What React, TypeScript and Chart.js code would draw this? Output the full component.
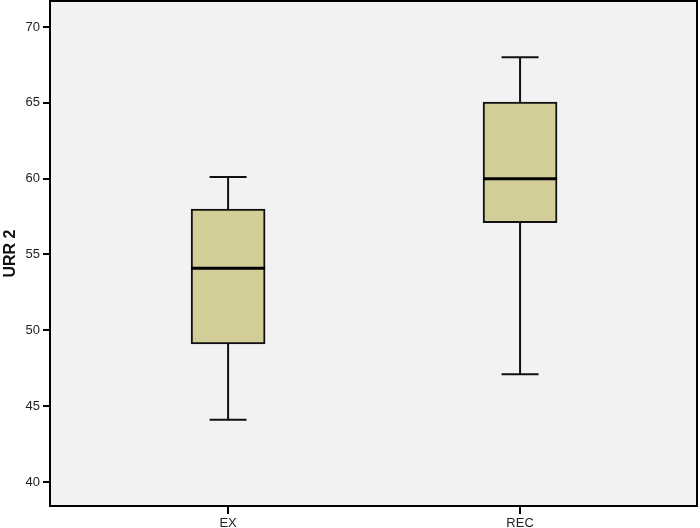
import React, { useEffect, useRef } from "react";
import { Chart, registerables } from "chart.js";

Chart.register(...registerables);

const categories = ["EX", "REC"];
const positions = [1, 2];
const minValues = [44.1, 47.1];
const q1Values = [49.1, 57.1];
const medianValues = [54.1, 60.0];
const q3Values = [58.0, 65.05];
const maxValues = [60.1, 68.0];
const yTicks = [40, 45, 50, 55, 60, 65, 70];

const boxPlugin = {
  id: "boxExtras",
  beforeDraw(chart: any) {
    const { ctx, chartArea: a } = chart;
    ctx.save();
    ctx.fillStyle = "#f2f2f2";
    ctx.fillRect(a.left, a.top, a.right - a.left, a.bottom - a.top);
    ctx.restore();
  },
  beforeDatasetsDraw(chart: any) {
    const { ctx } = chart;
    const xs = chart.scales.x;
    const ys = chart.scales.y;
    ctx.save();
    ctx.strokeStyle = "#111";
    ctx.lineWidth = 2;
    positions.forEach((p, i) => {
      const x = xs.getPixelForValue(p);
      const half = 18.5;
      const yMin = ys.getPixelForValue(minValues[i]);
      const yMax = ys.getPixelForValue(maxValues[i]);
      const yQ1 = ys.getPixelForValue(q1Values[i]);
      const yQ3 = ys.getPixelForValue(q3Values[i]);
      ctx.beginPath();
      ctx.moveTo(x, yQ3);
      ctx.lineTo(x, yMax);
      ctx.moveTo(x - half, yMax);
      ctx.lineTo(x + half, yMax);
      ctx.moveTo(x, yQ1);
      ctx.lineTo(x, yMin);
      ctx.moveTo(x - half, yMin);
      ctx.lineTo(x + half, yMin);
      ctx.stroke();
    });
    ctx.restore();
  },
  afterDatasetsDraw(chart: any) {
    const { ctx } = chart;
    const xs = chart.scales.x;
    const ys = chart.scales.y;
    const meta = chart.getDatasetMeta(0);
    ctx.save();
    ctx.strokeStyle = "#000";
    ctx.lineWidth = 3;
    positions.forEach((p, i) => {
      const bar: any = meta.data[i];
      const w = bar ? bar.width : 74;
      const x = xs.getPixelForValue(p);
      const y = ys.getPixelForValue(medianValues[i]);
      ctx.beginPath();
      ctx.moveTo(x - w / 2, y);
      ctx.lineTo(x + w / 2, y);
      ctx.stroke();
    });
    ctx.restore();
  },
  afterDraw(chart: any) {
    const { ctx, chartArea: a } = chart;
    ctx.save();
    ctx.strokeStyle = "#000";
    ctx.lineWidth = 2;
    ctx.strokeRect(a.left, a.top, a.right - a.left, a.bottom - a.top);
    ctx.restore();
  },
};

export default function App() {
  const ref = useRef<HTMLCanvasElement | null>(null);
  useEffect(() => {
    document.body.style.margin = "0";
    if (!ref.current) return;
    const chart = new Chart(ref.current, {
      type: "bar",
      data: {
        datasets: [
          {
            data: positions.map((p, i) => ({ x: p, y: [q1Values[i], q3Values[i]] })) as any,
            backgroundColor: "#d3ce98",
            borderColor: "#111",
            borderWidth: 2,
            borderSkipped: false,
            barThickness: 74,
          },
        ],
      },
      options: {
        animation: false,
        responsive: false,
        maintainAspectRatio: false,
        layout: { padding: { top: 1, right: 3, left: 0, bottom: 0 } },
        plugins: { legend: { display: false }, tooltip: { enabled: false } },
        scales: {
          x: {
            type: "linear",
            min: 0.39,
            max: 2.606,
            offset: false,
            grid: { display: true, offset: false, drawOnChartArea: false, drawTicks: true, tickLength: 8, color: "#000", lineWidth: 2 },
            border: { display: false },
            afterBuildTicks(scale: any) {
              scale.ticks = positions.map((v) => ({ value: v }));
            },
            afterFit(scale: any) {
              scale.height = 22;
              scale.paddingLeft = 0;
              scale.paddingRight = 0;
            },
            ticks: {
              padding: 2,
              color: "#222",
              font: { family: "Liberation Sans, Arial, sans-serif", size: 13 },
              callback: (v: any) => {
                const idx = positions.indexOf(Number(v));
                return idx >= 0 ? categories[idx] : "";
              },
            },
          },
          y: {
            type: "linear",
            min: 38.42,
            max: 71.71,
            grid: { display: true, drawOnChartArea: false, drawTicks: true, tickLength: 7, color: "#000", lineWidth: 2 },
            border: { display: false },
            afterBuildTicks(scale: any) {
              scale.ticks = yTicks.map((v) => ({ value: v }));
            },
            afterFit(scale: any) {
              scale.width = 50;
              scale.paddingTop = 0;
              scale.paddingBottom = 0;
            },
            title: {
              display: true,
              text: "URR 2",
              color: "#111",
              padding: { top: 1, bottom: 0 },
              font: { family: "Liberation Sans, Arial, sans-serif", size: 16, weight: "bold" },
            },
            ticks: {
              padding: 3,
              color: "#222",
              font: { family: "Liberation Sans, Arial, sans-serif", size: 13 },
            },
          },
        },
      },
      plugins: [boxPlugin],
    });
    return () => chart.destroy();
  }, []);
  return (
    <div style={{ width: 700, height: 528 }}>
      <canvas ref={ref} width={700} height={528} style={{ width: 700, height: 528, display: "block" }} />
    </div>
  );
}
